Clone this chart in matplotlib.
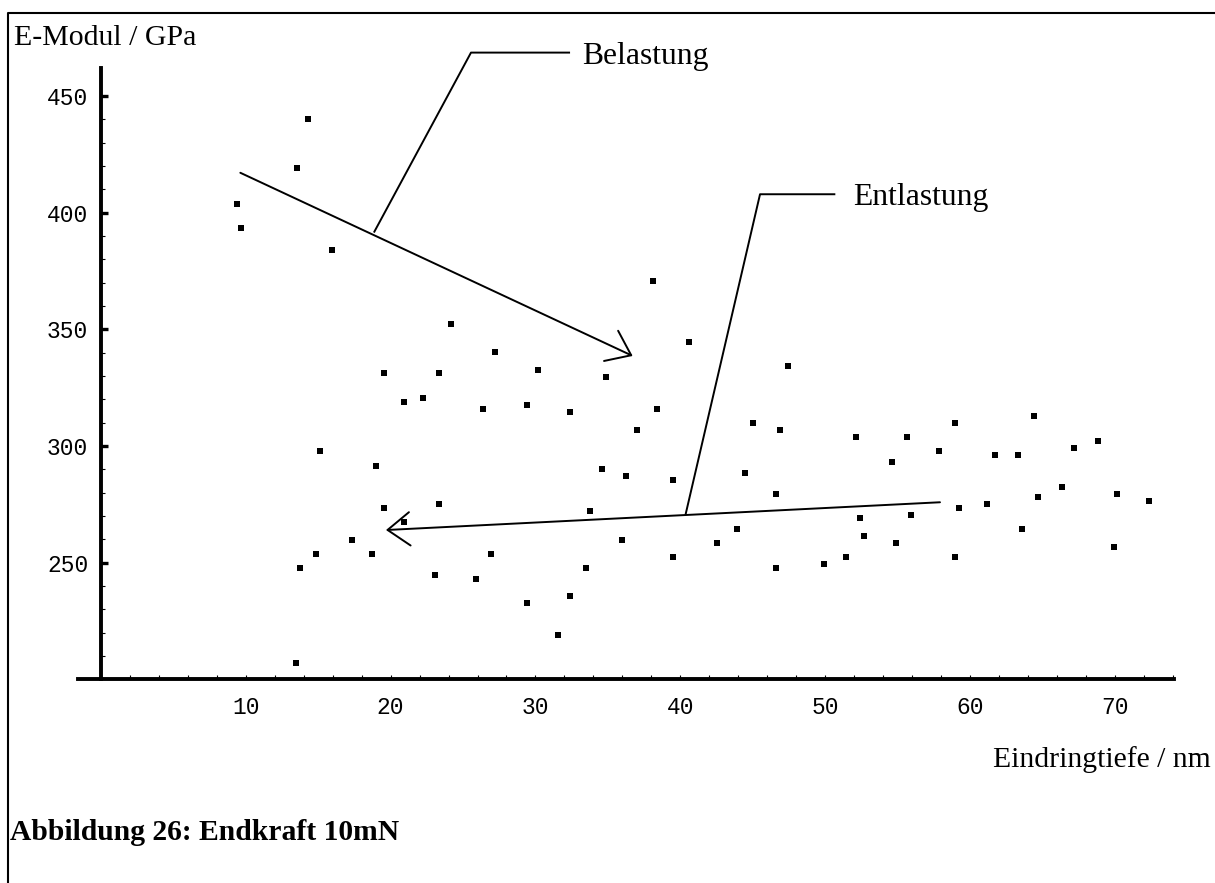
import matplotlib
matplotlib.use("Agg")
import matplotlib.pyplot as plt
from matplotlib.lines import Line2D
from matplotlib.patches import ArrowStyle
from matplotlib.ticker import FixedLocator

# Eindringtiefe (nm) and E-Modul (GPa)
depth = [14.32, 13.52, 9.40, 9.68, 15.96, 24.17, 27.19, 19.52, 23.34,
         20.90, 22.26, 26.36, 15.15, 18.97, 19.52, 23.34, 20.90, 17.34,
         14.87, 18.72, 13.77, 26.91, 23.09, 25.89, 13.49,
         38.13, 40.60, 47.45, 30.20, 34.85,
         29.39, 32.38, 38.41, 37.03, 44.99, 46.90, 34.57, 36.23, 39.52,
         44.44, 46.62, 33.76, 43.89, 42.51, 35.97, 39.52, 33.48, 46.62,
         49.94, 32.38, 29.39, 31.58,
         58.96, 64.43, 52.12, 55.67, 57.87, 54.59, 61.70, 63.33, 67.17,
         68.81, 66.34, 64.68, 70.16, 72.37, 59.23, 61.14, 55.95, 52.37,
         52.65, 54.86, 51.41, 58.96, 63.57, 69.91]
modulus = [440.1, 419.0, 403.8, 393.3, 384.0, 352.3, 340.2, 331.2, 331.2,
           319.0, 320.5, 315.9, 297.7, 291.6, 273.4, 275.0, 267.4, 259.9,
           253.9, 253.9, 247.7, 253.9, 244.7, 243.1, 206.9,
           370.6, 344.7, 334.2, 332.6, 329.6,
           317.5, 314.5, 315.9, 306.9, 309.9, 306.9, 290.2, 287.2, 285.6,
           288.6, 279.6, 272.0, 264.4, 258.3, 259.9, 252.3, 247.7, 247.7,
           249.3, 235.6, 232.6, 219.0,
           309.9, 313.0, 303.9, 303.9, 297.7, 293.3, 296.3, 296.3, 299.3,
           302.3, 282.5, 278.2, 279.6, 276.6, 273.4, 275.2, 270.4, 269.0,
           261.4, 258.4, 252.3, 252.3, 264.4, 256.9]

x_major = [10, 20, 30, 40, 50, 60, 70]
y_major = [250, 300, 350, 400, 450]

SERIF = "Liberation Serif"
MONO = "Liberation Mono"

fig = plt.figure(figsize=(12.15, 8.83), dpi=100)
ax = fig.add_axes([0, 0, 1, 1])
ax.set_facecolor("none")
ax.set_xlim(-6.959, 76.903)
ax.set_ylim(112.74, 491.14)

ax.plot(depth, modulus, "s", color="black", markersize=4.0, markeredgewidth=0)

# Mathematica style axes crossing at (0, 200)
for s in ["top", "right"]:
    ax.spines[s].set_visible(False)
ax.spines["left"].set_position(("data", 0))
ax.spines["bottom"].set_position(("data", 200))
ax.spines["left"].set_bounds(200, 462)
ax.spines["bottom"].set_bounds(-1.6, 74.1)
ax.spines["left"].set_linewidth(2.8)
ax.spines["bottom"].set_linewidth(2.8)

ax.xaxis.set_major_locator(FixedLocator(x_major))
ax.xaxis.set_minor_locator(FixedLocator([v for v in range(2, 76, 2) if v % 10]))
ax.yaxis.set_major_locator(FixedLocator(y_major))
ax.yaxis.set_minor_locator(FixedLocator([v for v in range(210, 450, 10) if v % 50]))

ax.tick_params(axis="x", which="both", direction="in", length=3, width=0.8, pad=12)
ax.tick_params(axis="y", which="major", direction="in", length=4.8, width=2.4, pad=9)
ax.tick_params(axis="y", which="minor", direction="in", length=3.1, width=0.8)
for lab in ax.get_xticklabels() + ax.get_yticklabels():
    lab.set_fontfamily(MONO)
    lab.set_fontsize(16.5)

# annotations
lw = 1.4
head = ArrowStyle("->", head_length=16, head_width=12)
ax.annotate("", xy=(36.71, 338.6), xytext=(9.63, 417.1),
            arrowprops=dict(arrowstyle=head, mutation_scale=1, lw=lw,
                            color="black", shrinkA=0, shrinkB=0))
ax.plot([18.88, 25.55, 32.32], [391.85, 468.6, 468.6], color="black", lw=lw)
ax.text(33.25, 463.5, "Belastung", family=SERIF, fontsize=22.8, va="baseline")

ax.annotate("", xy=(19.68, 264.0), xytext=(57.92, 275.9),
            arrowprops=dict(arrowstyle=head, mutation_scale=1, lw=lw,
                            color="black", shrinkA=0, shrinkB=0))
ax.plot([40.37, 45.50, 50.63], [270.9, 407.9, 407.9], color="black", lw=lw)
ax.text(51.95, 403.5, "Entlastung", family=SERIF, fontsize=22.8, va="baseline")

fig.text(0.0113, 0.949, "E-Modul / GPa", family=SERIF, fontsize=21.5, va="baseline")
fig.text(0.9967, 0.1314, "Eindringtiefe / nm", family=SERIF, fontsize=21.3,
         va="baseline", ha="right")
fig.text(0.0082, 0.0487, "Abbildung 26: Endkraft 10mN", family=SERIF,
         fontsize=21.3, fontweight="bold", va="baseline")

# page frame (top and left edge)
fig.add_artist(Line2D([8 / 1215, 8 / 1215, 1], [0, 1 - 13 / 883, 1 - 13 / 883],
                      transform=fig.transFigure, color="black", lw=1.5))

fig.savefig("out.png", dpi=100)
